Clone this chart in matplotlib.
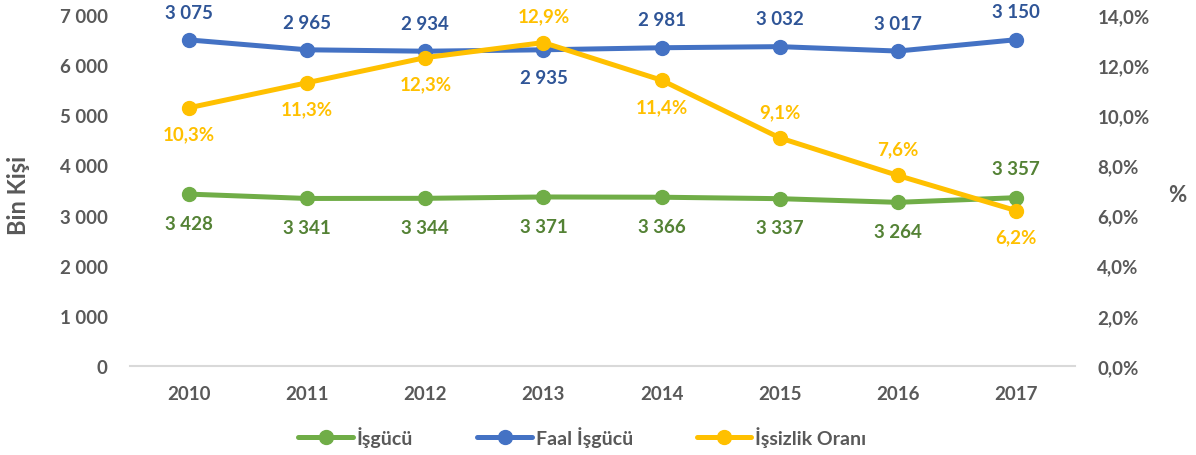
import numpy as np
import matplotlib.pyplot as plt

plt.rcParams['font.family'] = ['Lato', 'DejaVu Sans']
plt.rcParams['font.weight'] = 'bold'

years = ['2010', '2011', '2012', '2013', '2014', '2015', '2016', '2017']
isgucu = [3428, 3341, 3344, 3371, 3366, 3337, 3264, 3357]
faal = [3075, 2965, 2934, 2935, 2981, 3032, 3017, 3150]
issizlik = [10.3, 11.3, 12.3, 12.9, 11.4, 9.1, 7.6, 6.2]

# label placement: +1 above, -1 below
isgucu_pos = [-1, -1, -1, -1, -1, -1, -1, 1]
faal_pos = [1, 1, 1, -1, 1, 1, 1, 1]
issizlik_pos = [-1, -1, -1, 1, -1, 1, 1, -1]

GREEN = '#70AD47'
BLUE = '#4472C4'
YELLOW = '#FFC000'
GREY = '#595959'

def fmt_thousands(v):
    return f"{v:,.0f}".replace(',', ' ')

x = np.arange(len(years))
# Faal İşgücü is drawn stacked on top of İşgücü (as in the source chart)
faal_stacked = np.array(isgucu) + np.array(faal)

fig = plt.figure(figsize=(11.96, 4.56), dpi=100)
ax = fig.add_axes([130/1196, 89/456, 945/1196, 351/456])
ax2 = ax.twinx()

ax.plot(x, isgucu, color=GREEN, lw=3.6, marker='o', ms=10, label='İşgücü', solid_capstyle='round')
ax.plot(x, faal_stacked, color=BLUE, lw=3.6, marker='o', ms=10, label='Faal İşgücü', solid_capstyle='round')
ax2.plot(x, issizlik, color=YELLOW, lw=3.6, marker='o', ms=10, label='İşsizlik Oranı', solid_capstyle='round')

for i in range(len(x)):
    ax.annotate(fmt_thousands(isgucu[i]), (x[i], isgucu[i]), xytext=(0, 21*isgucu_pos[i]),
                textcoords='offset points', ha='center', va='center', color='#548235', fontsize=13.5, fontweight='bold')
    ax.annotate(fmt_thousands(faal[i]), (x[i], faal_stacked[i]), xytext=(0, 20*faal_pos[i]),
                textcoords='offset points', ha='center', va='center', color='#2F5597', fontsize=13.5, fontweight='bold')
    ax2.annotate(f"{issizlik[i]:.1f}%".replace('.', ','), (x[i], issizlik[i]), xytext=(0, 19*issizlik_pos[i]),
                 textcoords='offset points', ha='center', va='center', color=YELLOW, fontsize=13.5, fontweight='bold')

ax.set_xlim(-0.5, len(x) - 0.5)
ax.set_ylim(0, 7000)
ax2.set_ylim(0, 14)
ax.set_xticks(x)
ax.set_xticklabels(years)
ax.set_yticks(np.arange(0, 7001, 1000))
ax.set_yticklabels([fmt_thousands(v) for v in np.arange(0, 7001, 1000)])
ax2.set_yticks(np.arange(0, 14.1, 2))
ax2.set_yticklabels([f"{v:.1f}%".replace('.', ',') for v in np.arange(0, 14.1, 2)])

for a in (ax, ax2):
    for s in a.spines.values():
        s.set_visible(False)
    a.tick_params(length=0, labelsize=13.5, labelcolor=GREY)
ax.spines['bottom'].set_visible(True)
ax.spines['bottom'].set_color('#D9D9D9')
ax.spines['bottom'].set_linewidth(1.5)
ax.tick_params(axis='x', pad=14)
ax.tick_params(axis='y', pad=16)
ax2.tick_params(axis='y', pad=16)

ax.set_ylabel('Bin Kişi', fontsize=17, color=GREY, fontweight='bold', va='center')
ax.yaxis.set_label_coords(-0.1185, 0.49)
ax2.set_ylabel('%', fontsize=16, color=GREY, fontweight='bold', rotation=0, va='center', ha='center')
ax2.yaxis.set_label_coords(1.108, 0.49)

h1, l1 = ax.get_legend_handles_labels()
h2, l2 = ax2.get_legend_handles_labels()
fig.legend(h1 + h2, l1 + l2, loc='center', bbox_to_anchor=(0.487, 0.04), ncol=3, frameon=False,
           fontsize=14, labelcolor=GREY, handlelength=2.8, handletextpad=0.2, columnspacing=3.3)

fig.savefig('out.png', dpi=100)
